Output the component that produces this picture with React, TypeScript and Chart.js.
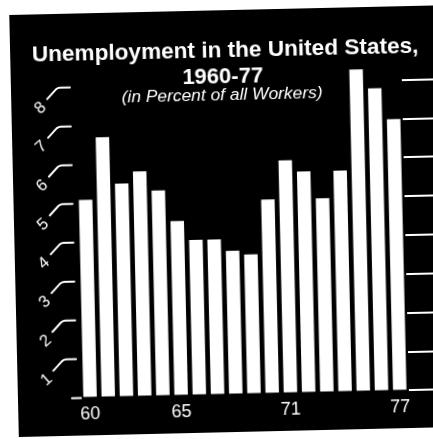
import React, { useEffect, useRef } from 'react';
import { Chart, registerables } from 'chart.js';

Chart.register(...registerables);

// ---- data ----
const YEARS = ['1960', '1961', '1962', '1963', '1964', '1965', '1966', '1967', '1968', '1969', '1970', '1971', '1972', '1973', '1974', '1975', '1976', '1977'];
const RATES = [5.1, 6.7, 5.5, 5.8, 5.3, 4.5, 4.0, 4.0, 3.7, 3.6, 5.0, 6.0, 5.7, 5.0, 5.7, 8.3, 7.8, 7.0];
const X_LABELS = ['60', '65', '71', '77'];
const Y_TICKS = [0, 1, 2, 3, 4, 5, 6, 7, 8];
const TITLE_LINES = ['Unemployment in the United States,', '1960-77'];
const SUBTITLE = '(in Percent of all Workers)';

const W = 440;
const H = 422;
const FONT = '"Liberation Sans", Arial, Helvetica, sans-serif';

const decorPlugin = {
  id: 'decor',
  afterDraw(chart: any) {
    const ctx = chart.ctx;
    const y = chart.scales.y;
    ctx.save();
    ctx.fillStyle = '#fff';
    ctx.strokeStyle = '#fff';
    // titles
    ctx.textAlign = 'center';
    ctx.textBaseline = 'alphabetic';
    ctx.font = 'bold 22.6px ' + FONT;
    ctx.fillText(TITLE_LINES[0], 215, 47);
    ctx.font = 'bold 22px ' + FONT;
    ctx.fillText(TITLE_LINES[1], 212, 73);
    ctx.font = 'italic 17.4px ' + FONT;
    ctx.fillText(SUBTITLE, 211, 90);

    // hand-drawn left scale: hooks + rotated digits
    ctx.lineWidth = 2;
    ctx.lineCap = 'round';
    ctx.lineJoin = 'round';
    Y_TICKS.forEach((v) => {
      const py = y.getPixelForValue(v);
      if (v === 0) {
        ctx.beginPath();
        ctx.moveTo(54, py);
        ctx.lineTo(63, py);
        ctx.stroke();
        return;
      }
      ctx.beginPath();
      ctx.moveTo(36, py + 11);
      ctx.lineTo(45, py + 1.5);
      ctx.quadraticCurveTo(47, py, 49, py);
      ctx.lineTo(59, py);
      ctx.stroke();
      ctx.save();
      ctx.translate(29, py + 20);
      ctx.rotate(-0.7);
      ctx.font = '16.5px ' + FONT;
      ctx.textAlign = 'center';
      ctx.textBaseline = 'middle';
      ctx.fillText(String(v), 0, 0);
      ctx.restore();
    });
    ctx.restore();
  },
};

export default function App() {
  const canvasRef = useRef<HTMLCanvasElement | null>(null);

  useEffect(() => {
    if (!canvasRef.current) return;
    const chart = new Chart(canvasRef.current, {
      type: 'bar',
      data: {
        labels: YEARS,
        datasets: [
          {
            data: RATES,
            backgroundColor: '#ffffff',
            borderWidth: 0,
            barPercentage: 0.74,
            categoryPercentage: 1,
          },
        ],
      },
      options: {
        animation: false,
        responsive: false,
        layout: { padding: { left: 63, right: 0, top: 35, bottom: 4 } },
        plugins: {
          legend: { display: false },
          tooltip: { enabled: false },
          title: { display: false },
        },
        scales: {
          x: {
            grid: { display: false, drawTicks: false },
            border: { display: false },
            ticks: {
              color: '#ffffff',
              font: { family: FONT, size: 18 },
              padding: 6,
              autoSkip: false,
              maxRotation: 0,
              minRotation: 0,
              callback: (_v: any, i: number) => {
                const yr = YEARS[i].slice(2);
                return X_LABELS.includes(yr) ? yr : '';
              },
            },
          },
          y: {
            position: 'right',
            min: 0,
            max: 9,
            afterBuildTicks: (scale: any) => {
              scale.ticks = Y_TICKS.map((v) => ({ value: v }));
            },
            border: { display: false },
            grid: {
              drawOnChartArea: false,
              drawTicks: true,
              tickLength: 49,
              color: '#ffffff',
              lineWidth: 2,
            },
            ticks: { display: false },
          },
        },
      },
      plugins: [decorPlugin],
    });
    return () => chart.destroy();
  }, []);

  return (
    <div
      style={{
        position: 'fixed',
        left: 0,
        top: 0,
        width: 433,
        height: 439,
        overflow: 'hidden',
        background: '#ffffff',
      }}
    >
      <div
        style={{
          position: 'absolute',
          left: 14,
          top: 10,
          width: W,
          height: H,
          background: '#000000',
          transform: 'rotate(-1.3deg)',
          transformOrigin: 'center center',
        }}
      >
        <canvas ref={canvasRef} width={W} height={H} style={{ display: 'block' }} />
      </div>
    </div>
  );
}
